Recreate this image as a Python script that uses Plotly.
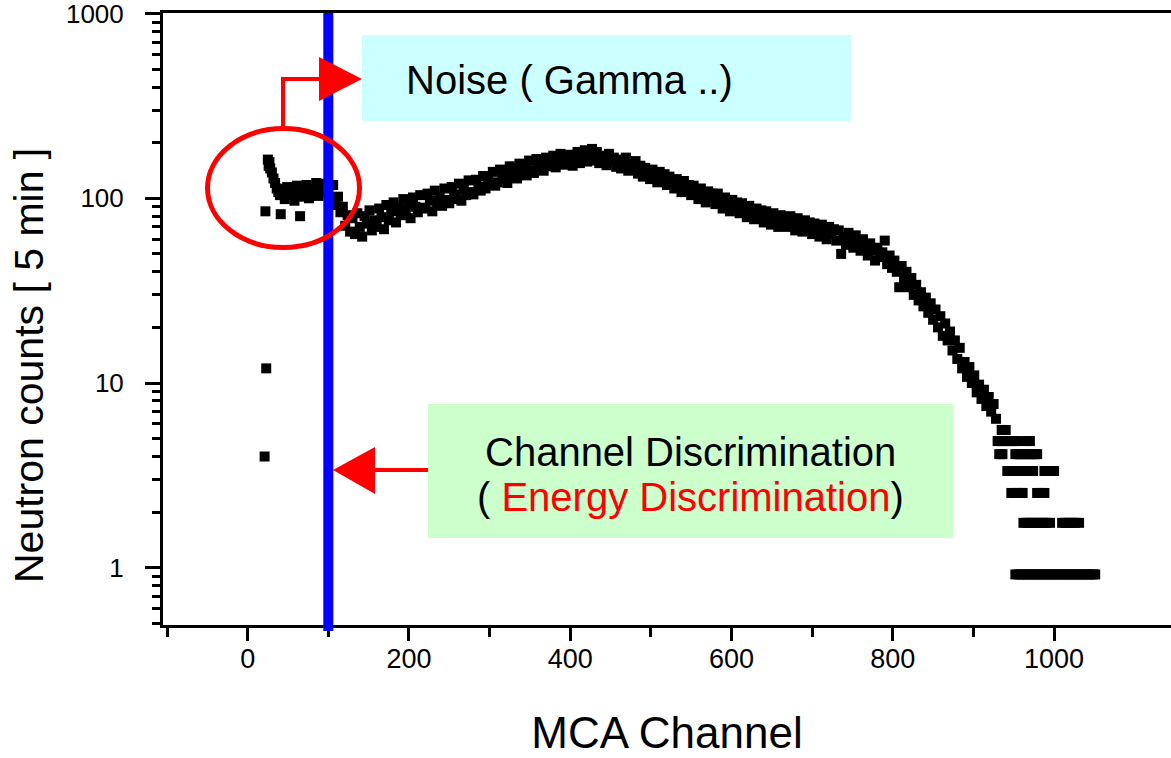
import plotly.graph_objects as go

# ---------------- data ----------------
noise_ch = [21, 22, 23, 25, 26, 27, 28, 30, 32, 34, 36, 38, 40, 41, 43, 46, 49,
            52, 55, 58, 61, 64, 65, 67, 70, 73, 76, 79, 82, 85, 88, 91, 94, 97]
noise_counts = [4.0, 85, 12, 162, 150, 157, 145, 138, 128, 121, 113, 108, 104, 82,
                112, 99, 115, 104, 110, 97, 117, 102, 80, 111, 106, 118, 100, 112,
                107, 121, 103, 115, 108, 120]

# main spectrum, every 3rd MCA channel starting at channel 100
band_counts = [
    114, 97, 118, 92, 102, 84, 90, 71, 81, 66,
    78, 64, 83, 70, 62, 80, 73, 86, 67, 76,
    70, 88, 79, 68, 92, 76, 85, 95, 74, 89,
    81, 99, 86, 93, 78, 101, 90, 84, 104, 89,
    88, 106, 97, 85, 110, 95, 101, 91, 113, 98,
    94, 115, 105, 99, 120, 97, 112, 104, 125, 108,
    105, 126, 116, 110, 132, 113, 127, 119, 139, 117,
    122, 143, 128, 136, 121, 149, 133, 145, 128, 154,
    138, 151, 133, 160, 142, 137, 163, 148, 157, 141,
    166, 149, 158, 170, 147, 161, 174, 152, 168, 156,
    172, 150, 165, 178, 155, 169, 182, 158, 176, 185,
    160, 178, 155, 170, 162, 151, 174, 158, 166, 148,
    162, 145, 157, 166, 141, 153, 147, 159, 136, 150,
    131, 146, 138, 127, 143, 133, 122, 139, 128, 135,
    118, 131, 122, 113, 127, 117, 108, 124, 111, 118,
    104, 117, 108, 99, 113, 103, 95, 109, 100, 106,
    93, 106, 97, 88, 101, 92, 85, 98, 89, 95,
    83, 94, 86, 79, 91, 84, 77, 88, 81, 86,
    74, 85, 78, 72, 83, 76, 70, 81, 74, 79,
    70, 80, 73, 67, 78, 72, 66, 76, 69, 74,
    64, 73, 68, 62, 72, 66, 60, 70, 64, 68,
    59, 67, 50, 62, 56, 65, 60, 54, 63, 57,
    52, 60, 55, 49, 57, 52, 46, 54, 48, 51,
    59, 44, 49, 42, 46, 40, 33, 43, 37, 40,
    33, 37, 30, 34, 28, 31, 26, 29, 24, 27,
    22, 25, 20, 23, 18, 21, 17, 19, 15, 17,
    13.5, 15.5, 12, 13, 10.8, 12.2, 10, 11, 8.9, 9.8,
    8.2, 9.2, 7.5, 8.4, 7.0, 7.7, 6.4,
]
band_ch = list(range(100, 100 + 3 * len(band_counts), 3))

# discrete low-count tail: count level -> channels at that level
tail_levels = [5.57, 4.85, 4.12, 3.34, 2.54, 1.75, 0.92]
tail_level_channels = [
    [935, 940],
    [930, 934, 938, 942, 946, 950, 954, 966, 970],
    [932, 936, 952, 956, 960, 964, 968, 972, 976, 979],
    [942, 946, 950, 954, 958, 962, 966, 970, 974, 988, 992, 996, 1000],
    [947, 951, 955, 959, 961, 979, 983, 988],
    [962, 966, 970, 974, 978, 982, 986, 990, 995, 1010, 1014, 1018, 1022, 1026, 1031],
    [952, 956, 960, 964, 968, 972, 976, 980, 984, 988, 992, 996, 1000, 1004,
     1008, 1012, 1016, 1020, 1024, 1028, 1032, 1036, 1040, 1044, 1048, 1051],
]
tail_ch, tail_counts = [], []
for lvl, chs in zip(tail_levels, tail_level_channels):
    tail_ch += chs
    tail_counts += [lvl] * len(chs)

x_tick_vals = [0, 200, 400, 600, 800, 1000]
x_minor_vals = [-100, 100, 300, 500, 700, 900]
y_tick_vals = [1, 10, 100, 1000]
y_tick_text = ["1", "10", "100", "1000"]
y_minor_vals = [0.5, 0.6, 0.7, 0.8, 0.9] + [k for k in range(2, 10)] + \
               [10 * k for k in range(2, 10)] + [100 * k for k in range(2, 10)]

discrimination_channel = 100

# ---------------- layout geometry ----------------
W, H = 1171, 758
L, R, T, B = 163, 0, 13, 133
PW, PH = W - L - R, H - T - B


def fx(p):
    return (p - L) / PW


def fy(p):
    return (H - B - p) / PH


FONT = "Liberation Sans, Arial, sans-serif"

fig = go.Figure()
fig.add_trace(go.Scatter(
    x=noise_ch + band_ch + tail_ch,
    y=noise_counts + band_counts + tail_counts,
    mode="markers",
    marker=dict(symbol="square", size=10, color="black", line=dict(width=0)),
    showlegend=False,
))

shapes = [
    # annotation boxes
    dict(type="rect", xref="paper", yref="paper", x0=fx(362), x1=fx(851), y0=fy(121), y1=fy(35),
         fillcolor="#CCFFFF", line=dict(width=0), layer="below"),
    dict(type="rect", xref="paper", yref="paper", x0=fx(428), x1=fx(953), y0=fy(538), y1=fy(404),
         fillcolor="#CCFFCC", line=dict(width=0), layer="below"),
    # discrimination line
    dict(type="line", xref="x", yref="paper", x0=discrimination_channel, x1=discrimination_channel,
         y0=fy(631), y1=1.0, line=dict(color="#0000FF", width=10), layer="above"),
    # noise ellipse
    dict(type="circle", xref="paper", yref="paper", x0=fx(207.5), x1=fx(359.5),
         y0=fy(247.5), y1=fy(128.5), line=dict(color="#FF0000", width=5), layer="above"),
    # elbow arrow from ellipse to noise box
    dict(type="path", xref="paper", yref="paper",
         path=f"M {fx(283)} {fy(130)} L {fx(283)} {fy(79)} L {fx(325)} {fy(79)}",
         line=dict(color="#FF0000", width=4), layer="above"),
    dict(type="path", xref="paper", yref="paper",
         path=f"M {fx(319)} {fy(57)} L {fx(362)} {fy(79)} L {fx(319)} {fy(101)} Z",
         fillcolor="#FF0000", line=dict(width=0), layer="above"),
    # arrow from discrimination box to blue line
    dict(type="path", xref="paper", yref="paper",
         path=f"M {fx(428)} {fy(470)} L {fx(370)} {fy(470)}",
         line=dict(color="#FF0000", width=4), layer="above"),
    dict(type="path", xref="paper", yref="paper",
         path=f"M {fx(375)} {fy(447)} L {fx(333)} {fy(470)} L {fx(375)} {fy(494)} Z",
         fillcolor="#FF0000", line=dict(width=0), layer="above"),
]

annotations = [
    dict(xref="paper", yref="paper", x=fx(569), y=fy(80), text="Noise ( Gamma ..)",
         showarrow=False, font=dict(family=FONT, size=40, color="black"),
         xanchor="center", yanchor="middle"),
    dict(xref="paper", yref="paper", x=fx(690), y=fy(452), text="Channel Discrimination",
         showarrow=False, font=dict(family=FONT, size=40, color="black"),
         xanchor="center", yanchor="middle"),
    dict(xref="paper", yref="paper", x=fx(690), y=fy(497),
         text="( <span style='color:#FF0000'>Energy Discrimination</span>)",
         showarrow=False, font=dict(family=FONT, size=40, color="black"),
         xanchor="center", yanchor="middle"),
    # y-axis title (placed off-centre as in the reference)
    dict(xref="paper", yref="paper", x=fx(29), y=fy(366), text="Neutron counts [ 5 min ]",
         textangle=-90, showarrow=False, font=dict(family=FONT, size=41, color="black"),
         xanchor="center", yanchor="middle"),
]

fig.update_layout(
    width=W, height=H,
    margin=dict(l=L, r=R, t=T, b=B, pad=0),
    paper_bgcolor="white", plot_bgcolor="white",
    font=dict(family=FONT, color="black"),
    shapes=shapes, annotations=annotations,
    xaxis=dict(
        range=[-105, 1145], tickvals=x_tick_vals, ticktext=[str(v) for v in x_tick_vals],
        ticks="outside", ticklen=13, tickwidth=3, tickcolor="black",
        showline=True, linecolor="black", linewidth=3, mirror=True,
        showgrid=False, zeroline=False,
        tickfont=dict(family=FONT, size=27, color="black"), ticklabelstandoff=-5,
        ticklabeloverflow="allow",
        minor=dict(tickvals=x_minor_vals, ticks="outside", ticklen=9, tickwidth=3,
                   tickcolor="black", showgrid=False),
        title=dict(text="MCA Channel", font=dict(family=FONT, size=44, color="black"),
                   standoff=44),
    ),
    yaxis=dict(
        type="log", range=[-0.31, 3.003], tickvals=y_tick_vals, ticktext=y_tick_text,
        ticks="outside", ticklen=15, tickwidth=3, tickcolor="black",
        showline=True, linecolor="black", linewidth=3,
        showgrid=False, zeroline=False,
        tickfont=dict(family=FONT, size=26, color="black"), ticklabelstandoff=16,
        ticklabeloverflow="allow",
        minor=dict(tickvals=y_minor_vals, ticks="outside", ticklen=8, tickwidth=3,
                   tickcolor="black", showgrid=False),
    ),
)

fig.write_html("out.html")
